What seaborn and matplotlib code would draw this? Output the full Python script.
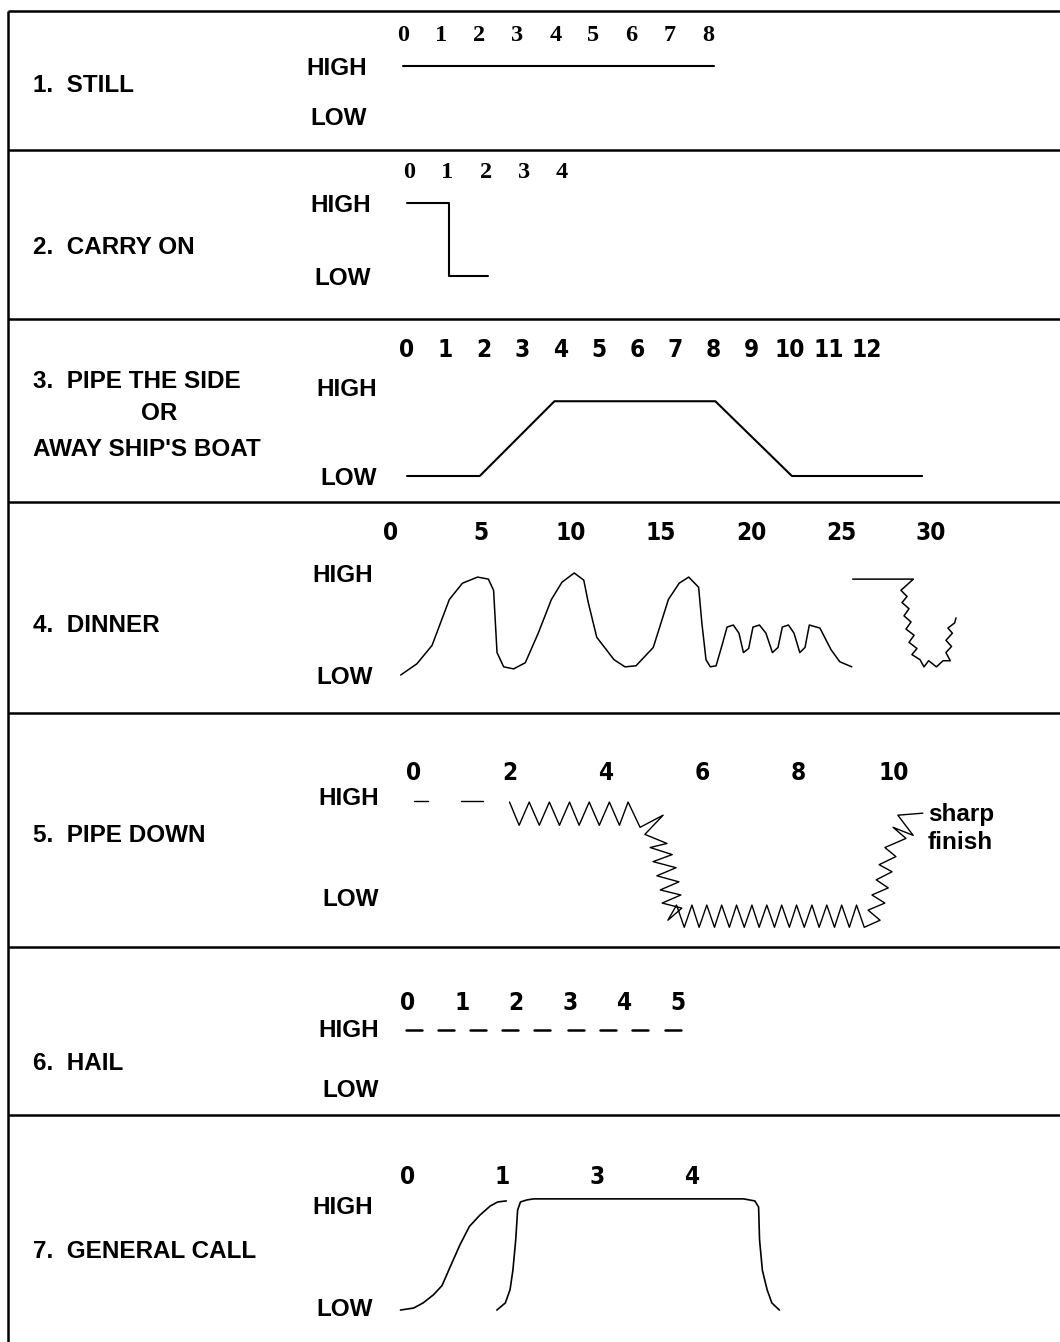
import pandas as pd
import matplotlib
matplotlib.use('Agg')
import matplotlib.pyplot as plt
from matplotlib import font_manager
import seaborn as sns

# Bosun's call chart - levels: 0 = LOW, 1 = HIGH, t = beats

row_titles = ['1.  STILL', '2.  CARRY ON', '', '4.  DINNER', '5.  PIPE DOWN', '6.  HAIL', '7.  GENERAL CALL']
side_title = ['3.  PIPE THE SIDE', 'OR', "AWAY SHIP'S BOAT"]

# 1. still
still_ticks = [0, 1, 2, 3, 4, 5, 6, 7, 8]
still_t = [0, 8.15]
still_level = [1, 1]

# 2. carry on
carry_ticks = [0, 1, 2, 3, 4]
carry_t = [-0.05, 1.05, 1.05, 2.05]
carry_level = [1, 1, 0, 0]

# 3. pipe the side
side_ticks = [0, 1, 2, 3, 4, 5, 6, 7, 8, 9, 10, 11, 12]
side_t = [0, 1.9, 3.85, 8.05, 10.05, 13.45]
side_level = [0, 0, 0.84, 0.84, 0, 0]

# 4. dinner
dinner_ticks = [0, 5, 10, 15, 20, 25, 30]
dinner_t = [0.54, 1.44, 2.28, 3.24, 3.97, 4.81, 5.41, 5.70, 5.89, 6.26, 6.81, 7.46,
            8.18, 8.91, 9.50, 10.18, 10.71, 10.96, 11.43, 12.39, 13.0, 13.61, 14.57,
            15.41, 16.01, 16.54, 17.09, 17.27, 17.5, 17.74, 18.06, 18.42, 18.67, 19.02,
            19.33, 19.58, 19.87, 20.11, 20.47, 20.83, 21.19, 21.5, 21.74, 22.08, 22.39,
            22.71, 23.0, 23.24, 23.83, 24.44, 24.93, 25.6]
dinner_level = [0.0, 0.11, 0.29, 0.74, 0.90, 0.96, 0.94, 0.83, 0.22, 0.08, 0.06, 0.12,
                0.41, 0.74, 0.91, 1.0, 0.93, 0.71, 0.37, 0.15, 0.08, 0.09, 0.27,
                0.74, 0.90, 0.96, 0.86, 0.51, 0.15, 0.08, 0.09, 0.31, 0.47, 0.49,
                0.41, 0.22, 0.26, 0.47, 0.49, 0.41, 0.22, 0.27, 0.47, 0.49, 0.41,
                0.22, 0.27, 0.49, 0.46, 0.25, 0.13, 0.08]
dinner_end_t = [25.65, 29.02, 28.33, 28.67, 28.39, 28.78, 28.5, 28.89, 28.61, 29.06, 28.78,
                29.22, 28.94, 29.39, 29.61, 29.87, 30.3, 30.67, 31.07, 30.83, 31.14, 30.83,
                31.19, 30.94, 31.31, 31.39]
dinner_end_level = [0.94, 0.94, 0.83, 0.77, 0.71, 0.65, 0.58, 0.52, 0.45, 0.39, 0.32,
                    0.26, 0.20, 0.15, 0.08, 0.14, 0.08, 0.14, 0.14, 0.22, 0.28, 0.34,
                    0.41, 0.46, 0.51, 0.56]

# 5. pipe down
down_ticks = [0, 2, 4, 6, 8, 10]
down_dash1_t = [0, 0.29]
down_dash2_t = [0.98, 1.43]
down_dash_level = [0.95, 0.95]
down_t = [1.99, 2.19, 2.40, 2.61, 2.82, 3.03, 3.24, 3.44, 3.65, 3.86, 4.07, 4.28, 4.46, 4.71, 5.19,
          4.81, 5.27, 4.92, 5.38, 4.98, 5.46, 5.06, 5.52, 5.13, 5.56, 5.17, 5.58, 5.29,
          5.47, 5.63, 5.79, 5.94, 6.10, 6.26, 6.41, 6.57, 6.72, 6.88, 7.04, 7.19, 7.35, 7.51,
          7.66, 7.82, 7.97, 8.13, 8.29, 8.44, 8.60, 8.76, 8.91, 9.07, 9.22, 9.38,
          9.71, 9.46, 9.81, 9.54, 9.88, 9.63, 9.96, 9.69, 10.04, 9.81, 10.25, 9.98, 10.40, 10.08, 10.60]
down_level = [0.94, 0.71, 0.94, 0.71, 0.94, 0.71, 0.94, 0.71, 0.94, 0.71, 0.94, 0.71, 0.94, 0.69, 0.81,
              0.62, 0.53, 0.49, 0.42, 0.35, 0.29, 0.21, 0.15, 0.07, 0.02, -0.06, -0.11, -0.23,
              -0.08, -0.30, -0.08, -0.30, -0.08, -0.30, -0.08, -0.30, -0.08, -0.30, -0.08, -0.30, -0.08, -0.30,
              -0.08, -0.30, -0.08, -0.30, -0.08, -0.30, -0.08, -0.30, -0.08, -0.30, -0.08, -0.30,
              -0.23, -0.13, -0.06, 0.02, 0.09, 0.17, 0.25, 0.32, 0.40, 0.49, 0.58, 0.69, 0.61, 0.81, 0.83]

# 6. hail
hail_ticks = [0, 1, 2, 3, 4, 5]
hail_start = [-0.04, 0.56, 1.15, 1.74, 2.33, 2.96, 3.56, 4.15, 4.76]
hail_end = [0.26, 0.86, 1.45, 2.04, 2.63, 3.26, 3.86, 4.45, 5.06]
hail_level = 0.97

# 7. general call
call_tick_labels = ['0', '1', '3', '4']
call_rise_t = [-0.08, 0.06, 0.16, 0.27, 0.36, 0.44, 0.55, 0.65, 0.76, 0.87, 0.95, 1.04]
call_rise_level = [-0.03, -0.01, 0.04, 0.12, 0.21, 0.38, 0.61, 0.79, 0.90, 0.99, 1.03, 1.04]
call_hold_t = [0.94, 1.03, 1.08, 1.11, 1.14, 1.16, 1.19, 1.26, 1.33, 3.55, 3.67, 3.71,
               3.72, 3.75, 3.80, 3.85, 3.93]
call_hold_level = [-0.03, 0.04, 0.17, 0.36, 0.66, 0.95, 1.03, 1.05, 1.06, 1.06, 1.04, 0.98,
                   0.66, 0.36, 0.17, 0.04, -0.03]


def segs(*pairs):
    parts = [pd.DataFrame({'t': t, 'level': lv, 'seg': i}) for i, (t, lv) in enumerate(pairs)]
    return pd.concat(parts, ignore_index=True)


rows = [
    segs((still_t, still_level)),
    segs((carry_t, carry_level)),
    segs((side_t, side_level)),
    segs((dinner_t, dinner_level), (dinner_end_t, dinner_end_level)),
    segs((down_dash1_t, down_dash_level), (down_dash2_t, down_dash_level), (down_t, down_level)),
    segs(*[([a, b], [hail_level, hail_level]) for a, b in zip(hail_start, hail_end)]),
    segs((call_rise_t, call_rise_level), (call_hold_t, call_hold_level)),
]
row_ticks = [still_ticks, carry_ticks, side_ticks, dinner_ticks, down_ticks, hail_ticks,
             list(range(len(call_tick_labels)))]
row_tick_labels = [[str(v) for v in still_ticks], [str(v) for v in carry_ticks],
                   [str(v) for v in side_ticks], [str(v) for v in dinner_ticks],
                   [str(v) for v in down_ticks], [str(v) for v in hail_ticks], call_tick_labels]

# layout in pixels: row box, x of beat 0, px per beat, LOW/HIGH heights, tick row height
W, H = 1060, 1342
row_edges = [11, 150, 319, 502, 713, 947, 1115, H]
layout = [
    dict(x0=403, sx=38.1, low=116, high=66, tick_y=32, lab_r=367, title_y=86, lw=1.5, serif=True),
    dict(x0=409, sx=38.3, low=276, high=203, tick_y=169, lab_r=371, title_y=247, lw=1.5, serif=True),
    dict(x0=407, sx=38.3, low=476, high=387, tick_y=348, lab_r=377, title_y=413, lw=1.5, serif=False),
    dict(x0=391, sx=18.0, low=675, high=573, tick_y=531, lab_r=373, title_y=625, lw=1.1, serif=False),
    dict(x0=414, sx=48.0, low=897, high=796, tick_y=771, lab_r=379, title_y=836, lw=1.0, serif=False),
    dict(x0=408, sx=54.0, low=1088, high=1028, tick_y=1001, lab_r=379, title_y=1063, lw=1.8, serif=False),
    dict(x0=408, sx=94.5, low=1307, high=1205, tick_y=1175, lab_r=373, title_y=1251, lw=1.2, serif=False),
]

sns.set_style('white')
plt.rcParams['font.family'] = ['Liberation Sans', 'DejaVu Sans']
plt.rcParams['font.weight'] = 'bold'
plt.rcParams['text.color'] = 'black'
plt.rcParams['xtick.color'] = 'black'
plt.rcParams['ytick.color'] = 'black'

label_font = dict(fontsize=17.5, fontweight='bold', family=['Liberation Sans', 'DejaVu Sans'])
serif_font = dict(fontsize=17.5, fontweight='bold', family=['Liberation Serif', 'DejaVu Serif'])

# the beat numbers use a condensed bold face when one is installed
narrow_file = None
for f in font_manager.fontManager.ttflist:
    if f.stretch in ('condensed', 'semi-condensed') and f.weight in (700, 'bold') and f.style == 'normal':
        if f.name in ('Liberation Sans Narrow', 'DejaVu Sans', 'Roboto', 'Open Sans', 'Noto Sans', 'Roboto Condensed'):
            narrow_file = f.fname
            break
if narrow_file:
    narrow_font = dict(fontproperties=font_manager.FontProperties(fname=narrow_file, size=17.5))
else:
    narrow_font = dict(fontsize=16.5, fontweight='bold', family=['Liberation Sans', 'DejaVu Sans'])

fig = plt.figure(figsize=(W / 100, H / 100), dpi=100)

# frame of the table
bg = fig.add_axes([0, 0, 1, 1])
bg.set_xlim(0, W)
bg.set_ylim(H, 0)
bg.axis('off')
bg.hlines(row_edges[:-1], 8, W, color='black', lw=1.8)
bg.vlines(8, 11, H, color='black', lw=1.8)

for i, (df, lay) in enumerate(zip(rows, layout)):
    top, bottom = row_edges[i], row_edges[i + 1]
    L, R = lay['lab_r'], 1058
    T, B = lay['tick_y'] + 14, bottom - 3
    ax = fig.add_axes([L / W, 1 - B / H, (R - L) / W, (B - T) / H])
    ax.patch.set_alpha(0)
    sns.lineplot(data=df, x='t', y='level', units='seg', estimator=None, sort=False,
                 color='black', lw=lay['lw'], ax=ax)
    ax.set_xlim((L - lay['x0']) / lay['sx'], (R - lay['x0']) / lay['sx'])
    span = lay['low'] - lay['high']
    ax.set_ylim((lay['low'] - B) / span, (lay['low'] - T) / span)
    ax.set_xlabel('')
    ax.set_ylabel('')
    ax.xaxis.tick_top()
    ax.set_xticks(row_ticks[i])
    ax.set_xticklabels(row_tick_labels[i], **(serif_font if lay['serif'] else narrow_font))
    ax.set_yticks([0, 1])
    ax.set_yticklabels(['LOW', 'HIGH'], **label_font)
    ax.tick_params(length=0, pad=0, colors='black')
    for s in ax.spines.values():
        s.set_visible(False)
    if row_titles[i]:
        fig.text(33 / W, 1 - lay['title_y'] / H, row_titles[i], ha='left', va='center', **label_font)
    if i == 4:
        ax.annotate('sharp\nfinish', xy=(down_t[-1], down_level[-1]), xytext=(5, 10),
                    textcoords='offset pixels', ha='left', va='top', linespacing=1.25, **label_font)

# three-line title of row 3
fig.text(33 / W, 1 - 382 / H, side_title[0], ha='left', va='center', **label_font)
fig.text(159 / W, 1 - 413 / H, side_title[1], ha='center', va='center', **label_font)
fig.text(33 / W, 1 - 449 / H, side_title[2], ha='left', va='center', **label_font)

fig.savefig('out.png', dpi=100)
